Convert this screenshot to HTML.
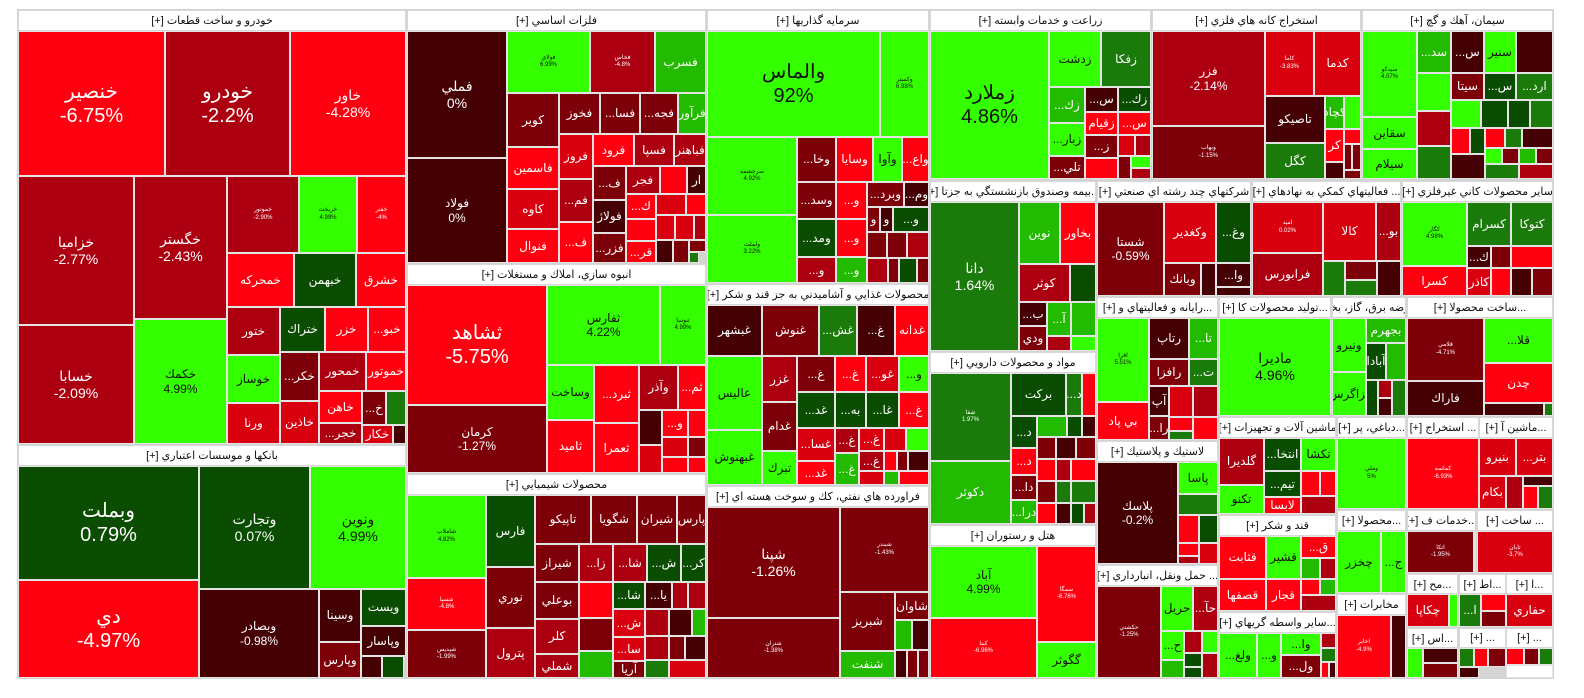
<!DOCTYPE html>
<html><head><meta charset="utf-8">
<style>
body{margin:0;width:1584px;height:698px;background:#fff;position:relative;overflow:hidden;font-family:"Liberation Sans","DejaVu Sans",sans-serif}
.t{position:absolute;box-sizing:border-box;border:1px solid #e4e4e4;display:flex;align-items:center;justify-content:center;text-align:center;color:#fff;font-size:12px;overflow:hidden;line-height:1.2;direction:rtl;unicode-bidi:plaintext;white-space:pre-line}
.h{position:absolute;box-sizing:border-box;border:1px solid #d8d8d8;background:#fff;color:#111;font-size:11px;display:flex;align-items:center;justify-content:center;direction:rtl;white-space:nowrap;overflow:hidden}
.R1{background:#ff0010}.R2{background:#d9000f}.R3{background:#ac0010}.R4{background:#7d0008}.R5{background:#440003}
.G1{background:#33ff00;color:#111}.G2{background:#22bb00}.G3{background:#1a7a0a}.G4{background:#0a4d00}
.b{font-size:20px}.m{font-size:14px}.s{font-size:6px}
</style></head><body>
<div style="position:absolute;left:17px;top:9px;width:1537px;height:670px;background:#d4d4d4"></div>

<!-- خودرو -->
<div class="h" style="left:18px;top:10px;width:388px;height:21px">خودرو و ساخت قطعات [+]</div>
<div class="t R1 b" style="left:18px;top:31px;width:147px;height:145px">خنصير
-6.75%</div>
<div class="t R3 b" style="left:165px;top:31px;width:125px;height:145px">خودرو
-2.2%</div>
<div class="t R1 m" style="left:290px;top:31px;width:116px;height:145px">خاور
-4.28%</div>
<div class="t R3 m" style="left:18px;top:176px;width:116px;height:149px">خزاميا
-2.77%</div>
<div class="t R3 m" style="left:18px;top:325px;width:116px;height:119px">خسابا
-2.09%</div>
<div class="t R3 m" style="left:134px;top:176px;width:93px;height:143px">خگستر
-2.43%</div>
<div class="t G1" style="left:134px;top:319px;width:93px;height:125px">خكمك
4.99%</div>
<div class="t R3 s" style="left:227px;top:176px;width:72px;height:77px">خموتور
-2.90%</div>
<div class="t G1 s" style="left:299px;top:176px;width:58px;height:77px">خريخت
4.99%</div>
<div class="t R1 s" style="left:357px;top:176px;width:49px;height:77px">خفنر
-4%</div>
<div class="t R1" style="left:227px;top:253px;width:67px;height:54px">خمحركه</div>
<div class="t G4" style="left:294px;top:253px;width:62px;height:54px">خبهمن</div>
<div class="t R1" style="left:356px;top:253px;width:50px;height:54px">خشرق</div>
<div class="t R3" style="left:227px;top:307px;width:53px;height:48px">ختور</div>
<div class="t G4" style="left:280px;top:307px;width:45px;height:45px">ختراك</div>
<div class="t R1" style="left:325px;top:307px;width:43px;height:45px">خزر</div>
<div class="t R1" style="left:368px;top:307px;width:38px;height:45px">خبو...</div>
<div class="t G1" style="left:227px;top:355px;width:53px;height:48px">خوساز</div>
<div class="t R2" style="left:227px;top:403px;width:53px;height:41px">ورنا</div>
<div class="t R4" style="left:280px;top:352px;width:39px;height:49px">خكر...</div>
<div class="t R2" style="left:280px;top:401px;width:39px;height:43px">خاذين</div>
<div class="t R3" style="left:319px;top:352px;width:47px;height:39px">خمحور</div>
<div class="t R1" style="left:366px;top:352px;width:40px;height:39px">خموتور</div>
<div class="t R1" style="left:319px;top:391px;width:43px;height:32px">خاهن</div>
<div class="t R4" style="left:362px;top:391px;width:24px;height:34px">خ...</div>
<div class="t G3" style="left:386px;top:391px;width:20px;height:34px"></div>
<div class="t R3" style="left:319px;top:423px;width:43px;height:21px">خجر...</div>
<div class="t R2" style="left:362px;top:425px;width:31px;height:19px">خكار</div>
<div class="t R5" style="left:393px;top:425px;width:13px;height:19px"></div>

<!-- بانكها -->
<div class="h" style="left:18px;top:445px;width:388px;height:21px">بانكها و موسسات اعتباري [+]</div>
<div class="t G4 b" style="left:18px;top:466px;width:181px;height:114px">وبملت
0.79%</div>
<div class="t R1 b" style="left:18px;top:580px;width:181px;height:98px">دي
-4.97%</div>
<div class="t G4 m" style="left:199px;top:466px;width:111px;height:123px">وتجارت
0.07%</div>
<div class="t G1 m" style="left:310px;top:466px;width:96px;height:123px">ونوين
4.99%</div>
<div class="t R5" style="left:199px;top:589px;width:120px;height:89px">وبصادر
-0.98%</div>
<div class="t R5" style="left:319px;top:589px;width:42px;height:53px">وسينا</div>
<div class="t G4" style="left:361px;top:589px;width:45px;height:37px">ويست</div>
<div class="t R5" style="left:361px;top:626px;width:45px;height:30px">وپاسار</div>
<div class="t R4" style="left:319px;top:642px;width:42px;height:36px">وپارس</div>
<div class="t R5" style="left:361px;top:656px;width:21px;height:22px"></div>
<div class="t G4" style="left:382px;top:656px;width:22px;height:22px"></div>

<!-- فلزات -->
<div class="h" style="left:407px;top:10px;width:299px;height:21px">فلزات اساسي [+]</div>
<div class="t R5 m" style="left:407px;top:31px;width:100px;height:127px">فملي
0%</div>
<div class="t R5" style="left:407px;top:158px;width:100px;height:105px">فولاد
0%</div>
<div class="t G1 s" style="left:507px;top:31px;width:83px;height:62px">فولاي
6.99%</div>
<div class="t R3 s" style="left:590px;top:31px;width:65px;height:62px">فخاس
-4.8%</div>
<div class="t G2" style="left:655px;top:31px;width:51px;height:62px">فسرب</div>
<div class="t R4" style="left:507px;top:93px;width:52px;height:54px">كوير</div>
<div class="t R4" style="left:559px;top:93px;width:41px;height:41px">فخوز</div>
<div class="t R4" style="left:600px;top:93px;width:40px;height:41px">فسا...</div>
<div class="t R4" style="left:640px;top:93px;width:38px;height:41px">فجه...</div>
<div class="t G2" style="left:678px;top:93px;width:28px;height:41px">فرآور</div>
<div class="t R1" style="left:507px;top:147px;width:52px;height:42px">فاسمين</div>
<div class="t R2" style="left:507px;top:189px;width:52px;height:40px">كاوه</div>
<div class="t R1" style="left:507px;top:229px;width:52px;height:34px">فنوال</div>
<div class="t R2" style="left:559px;top:134px;width:34px;height:45px">فروز</div>
<div class="t R1" style="left:593px;top:134px;width:41px;height:32px">فرود</div>
<div class="t R3" style="left:634px;top:134px;width:40px;height:32px">فسپا</div>
<div class="t R3" style="left:674px;top:134px;width:32px;height:32px">فباهنر</div>
<div class="t R3" style="left:559px;top:179px;width:34px;height:43px">فم...</div>
<div class="t R1" style="left:559px;top:222px;width:34px;height:41px">ف...</div>
<div class="t R4" style="left:593px;top:166px;width:33px;height:34px">ف...</div>
<div class="t R5" style="left:593px;top:200px;width:33px;height:33px">فولاژ</div>
<div class="t R4" style="left:593px;top:233px;width:33px;height:30px">فزر...</div>
<div class="t R3" style="left:626px;top:166px;width:34px;height:28px">فجر</div>
<div class="t R1" style="left:660px;top:166px;width:27px;height:28px"></div>
<div class="t R5" style="left:687px;top:166px;width:19px;height:28px">ار</div>
<div class="t R1" style="left:626px;top:194px;width:30px;height:25px">ك...</div>
<div class="t R2" style="left:656px;top:194px;width:30px;height:21px"></div>
<div class="t R1" style="left:686px;top:194px;width:20px;height:21px"></div>
<div class="t R1" style="left:626px;top:219px;width:30px;height:22px"></div>
<div class="t R2" style="left:656px;top:215px;width:19px;height:25px"></div>
<div class="t R2" style="left:675px;top:215px;width:19px;height:25px"></div>
<div class="t R3" style="left:694px;top:215px;width:12px;height:25px"></div>
<div class="t R1" style="left:626px;top:241px;width:30px;height:22px">قر...</div>
<div class="t R5" style="left:656px;top:240px;width:17px;height:23px"></div>
<div class="t R4" style="left:673px;top:240px;width:16px;height:23px"></div>
<div class="t R4" style="left:689px;top:240px;width:17px;height:12px"></div>
<div class="t G3" style="left:689px;top:252px;width:10px;height:11px"></div>

<!-- انبوه -->
<div class="h" style="left:407px;top:264px;width:299px;height:21px">انبوه سازي، املاك و مستغلات [+]</div>
<div class="t R1 b" style="left:407px;top:285px;width:140px;height:120px">ثشاهد
-5.75%</div>
<div class="t R4" style="left:407px;top:405px;width:140px;height:68px">كرمان
-1.27%</div>
<div class="t G1" style="left:547px;top:285px;width:113px;height:80px">ثفارس
4.22%</div>
<div class="t G1 s" style="left:660px;top:285px;width:46px;height:80px">ثنوسا
4.99%</div>
<div class="t G1" style="left:547px;top:365px;width:47px;height:55px">وساخت</div>
<div class="t R1" style="left:547px;top:420px;width:47px;height:53px">ثامید</div>
<div class="t R1" style="left:594px;top:365px;width:45px;height:58px">ثبرد...</div>
<div class="t R1" style="left:594px;top:423px;width:45px;height:50px">ثعمرا</div>
<div class="t R3" style="left:639px;top:365px;width:39px;height:45px">وآذر</div>
<div class="t R1" style="left:678px;top:365px;width:28px;height:45px">ثم...</div>
<div class="t R5" style="left:639px;top:410px;width:23px;height:35px"></div>
<div class="t R1" style="left:662px;top:410px;width:26px;height:27px">و...</div>
<div class="t R1" style="left:688px;top:410px;width:18px;height:27px"></div>
<div class="t R2" style="left:639px;top:445px;width:23px;height:28px"></div>
<div class="t R2" style="left:662px;top:437px;width:26px;height:20px"></div>
<div class="t R4" style="left:688px;top:437px;width:18px;height:20px"></div>
<div class="t R1" style="left:662px;top:457px;width:26px;height:16px"></div>
<div class="t R1" style="left:688px;top:457px;width:18px;height:16px"></div>

<!-- شيميايي -->
<div class="h" style="left:407px;top:474px;width:299px;height:21px">محصولات شيميايي [+]</div>
<div class="t G1 s" style="left:407px;top:495px;width:79px;height:83px">شاملاب
4.82%</div>
<div class="t R1 s" style="left:407px;top:578px;width:79px;height:52px">شسپا
-4.8%</div>
<div class="t R4 s" style="left:407px;top:630px;width:79px;height:48px">شپدیس
-1.99%</div>
<div class="t G4" style="left:486px;top:495px;width:49px;height:72px">فارس</div>
<div class="t R4" style="left:486px;top:567px;width:49px;height:61px">نوري</div>
<div class="t R3" style="left:486px;top:628px;width:49px;height:50px">پترول</div>
<div class="t R4" style="left:535px;top:495px;width:56px;height:49px">تاپيكو</div>
<div class="t R4" style="left:591px;top:495px;width:46px;height:49px">شگويا</div>
<div class="t R4" style="left:637px;top:495px;width:40px;height:49px">شيران</div>
<div class="t R4" style="left:677px;top:495px;width:29px;height:49px">پارس</div>
<div class="t R4" style="left:535px;top:544px;width:44px;height:38px">شيراز</div>
<div class="t R3" style="left:579px;top:544px;width:34px;height:38px">زا...</div>
<div class="t R3" style="left:613px;top:544px;width:34px;height:38px">شا...</div>
<div class="t G4" style="left:647px;top:544px;width:34px;height:38px">ش...</div>
<div class="t G4" style="left:681px;top:544px;width:25px;height:38px">كر...</div>
<div class="t R4" style="left:535px;top:582px;width:44px;height:37px">بوعلي</div>
<div class="t R3" style="left:535px;top:619px;width:44px;height:35px">كلر</div>
<div class="t R3" style="left:535px;top:654px;width:44px;height:24px">شملي</div>
<div class="t R1" style="left:579px;top:582px;width:34px;height:36px"></div>
<div class="t R4" style="left:579px;top:618px;width:34px;height:33px"></div>
<div class="t G2" style="left:579px;top:651px;width:34px;height:27px"></div>
<div class="t G4" style="left:613px;top:582px;width:32px;height:27px">شا...</div>
<div class="t R5" style="left:645px;top:582px;width:27px;height:27px">يا...</div>
<div class="t R3" style="left:672px;top:582px;width:16px;height:27px"></div>
<div class="t R3" style="left:688px;top:582px;width:18px;height:27px"></div>
<div class="t R2" style="left:613px;top:609px;width:32px;height:28px">ش...</div>
<div class="t R2" style="left:613px;top:637px;width:32px;height:24px">سا...</div>
<div class="t R4" style="left:613px;top:661px;width:32px;height:17px">آريا</div>
<div class="t R3" style="left:645px;top:609px;width:24px;height:27px"></div>
<div class="t R5" style="left:669px;top:609px;width:23px;height:27px"></div>
<div class="t G2" style="left:692px;top:609px;width:14px;height:27px"></div>
<div class="t R3" style="left:645px;top:636px;width:24px;height:24px"></div>
<div class="t R4" style="left:669px;top:636px;width:16px;height:24px"></div>
<div class="t R5" style="left:685px;top:636px;width:21px;height:24px"></div>
<div class="t G3" style="left:645px;top:660px;width:24px;height:18px"></div>
<div class="t R2" style="left:669px;top:660px;width:37px;height:18px"></div>

<!-- سرمايه گذاريها -->
<div class="h" style="left:707px;top:10px;width:222px;height:21px">سرمايه گذاريها [+]</div>
<div class="t G1 b" style="left:707px;top:31px;width:173px;height:106px">والماس
92%</div>
<div class="t G1 s" style="left:880px;top:31px;width:49px;height:106px">وكستر
6.98%</div>
<div class="t G1 s" style="left:707px;top:137px;width:90px;height:78px">سرچشمه
4.92%</div>
<div class="t G1 s" style="left:707px;top:215px;width:90px;height:68px">ولملت
3.22%</div>
<div class="t R4" style="left:797px;top:137px;width:39px;height:45px">وخا...</div>
<div class="t R1" style="left:836px;top:137px;width:37px;height:45px">وسايا</div>
<div class="t G1" style="left:873px;top:137px;width:29px;height:45px">وآوا</div>
<div class="t R1" style="left:902px;top:137px;width:27px;height:45px">واع...</div>
<div class="t R4" style="left:797px;top:182px;width:39px;height:37px">وسد...</div>
<div class="t R1" style="left:836px;top:182px;width:31px;height:37px">و...</div>
<div class="t R4" style="left:867px;top:182px;width:37px;height:25px">وبرد...</div>
<div class="t R5" style="left:904px;top:182px;width:25px;height:25px">وم...</div>
<div class="t G4" style="left:797px;top:219px;width:39px;height:38px">ومد...</div>
<div class="t R1" style="left:836px;top:219px;width:31px;height:38px">و...</div>
<div class="t R4" style="left:867px;top:207px;width:13px;height:25px">و</div>
<div class="t R5" style="left:880px;top:207px;width:13px;height:25px">و</div>
<div class="t G4" style="left:893px;top:207px;width:36px;height:25px">و...</div>
<div class="t R4" style="left:867px;top:232px;width:20px;height:26px"></div>
<div class="t R4" style="left:887px;top:232px;width:20px;height:26px"></div>
<div class="t R3" style="left:907px;top:232px;width:22px;height:26px"></div>
<div class="t R3" style="left:797px;top:257px;width:39px;height:26px">و...</div>
<div class="t G2" style="left:836px;top:257px;width:31px;height:26px">و...</div>
<div class="t R3" style="left:867px;top:258px;width:21px;height:25px"></div>
<div class="t R4" style="left:888px;top:258px;width:11px;height:25px"></div>
<div class="t G4" style="left:899px;top:258px;width:18px;height:25px"></div>
<div class="t R4" style="left:917px;top:258px;width:12px;height:25px"></div>

<!-- غذايي -->
<div class="h" style="left:707px;top:284px;width:222px;height:21px">محصولات غذايي و آشاميدني به جز قند و شكر [+]</div>
<div class="t R5" style="left:707px;top:305px;width:55px;height:51px">غبشهر</div>
<div class="t R4" style="left:762px;top:305px;width:57px;height:51px">غنوش</div>
<div class="t G3" style="left:819px;top:305px;width:38px;height:51px">غش...</div>
<div class="t R5" style="left:857px;top:305px;width:38px;height:51px">غ...</div>
<div class="t R1" style="left:895px;top:305px;width:34px;height:51px">غدانه</div>
<div class="t G1" style="left:707px;top:356px;width:55px;height:74px">عاليس</div>
<div class="t G1" style="left:707px;top:430px;width:55px;height:55px">غبهنوش</div>
<div class="t R3" style="left:762px;top:356px;width:35px;height:46px">غزر</div>
<div class="t R4" style="left:762px;top:402px;width:35px;height:49px">غدام</div>
<div class="t G1" style="left:762px;top:451px;width:35px;height:34px">تبرك</div>
<div class="t R4" style="left:797px;top:356px;width:38px;height:36px">غ...</div>
<div class="t R1" style="left:835px;top:356px;width:31px;height:36px">غ...</div>
<div class="t R2" style="left:866px;top:356px;width:33px;height:36px">غو...</div>
<div class="t G1" style="left:899px;top:356px;width:30px;height:36px">و...</div>
<div class="t G4" style="left:797px;top:392px;width:38px;height:36px">غد...</div>
<div class="t G4" style="left:835px;top:392px;width:31px;height:36px">به...</div>
<div class="t G4" style="left:866px;top:392px;width:33px;height:36px">غا...</div>
<div class="t R1" style="left:899px;top:392px;width:30px;height:36px">غ...</div>
<div class="t R2" style="left:797px;top:428px;width:38px;height:33px">غسا...</div>
<div class="t R1" style="left:797px;top:461px;width:38px;height:24px">غد...</div>
<div class="t R3" style="left:835px;top:428px;width:24px;height:25px">غ...</div>
<div class="t G2" style="left:835px;top:453px;width:24px;height:32px">غ...</div>
<div class="t R2" style="left:859px;top:428px;width:25px;height:23px">غ...</div>
<div class="t R3" style="left:859px;top:451px;width:25px;height:20px">غ...</div>
<div class="t R2" style="left:859px;top:471px;width:25px;height:14px"></div>
<div class="t R2" style="left:884px;top:428px;width:22px;height:23px"></div>
<div class="t G1" style="left:906px;top:428px;width:23px;height:23px"></div>
<div class="t R1" style="left:884px;top:451px;width:13px;height:20px"></div>
<div class="t R4" style="left:897px;top:451px;width:11px;height:20px"></div>
<div class="t R5" style="left:908px;top:451px;width:21px;height:20px"></div>
<div class="t G2" style="left:884px;top:471px;width:15px;height:14px"></div>
<div class="t R1" style="left:899px;top:471px;width:30px;height:14px"></div>

<!-- فراورده نفتي -->
<div class="h" style="left:707px;top:486px;width:222px;height:21px">فراورده هاي نفتي، كك و سوخت هسته اي [+]</div>
<div class="t R4 m" style="left:707px;top:507px;width:133px;height:111px">شپنا
-1.26%</div>
<div class="t R4 s" style="left:840px;top:507px;width:89px;height:85px">شبندر
-1.43%</div>
<div class="t R4 s" style="left:707px;top:618px;width:133px;height:60px">شتران
-1.38%</div>
<div class="t R4" style="left:840px;top:592px;width:55px;height:59px">شبريز</div>
<div class="t R4" style="left:895px;top:592px;width:34px;height:28px">شاوان</div>
<div class="t G2" style="left:895px;top:620px;width:17px;height:30px"></div>
<div class="t R5" style="left:912px;top:620px;width:17px;height:30px"></div>
<div class="t G2" style="left:840px;top:651px;width:55px;height:27px">شنفت</div>
<div class="t R5" style="left:895px;top:650px;width:12px;height:28px"></div>
<div class="t R4" style="left:907px;top:650px;width:11px;height:28px"></div>
<div class="t R4" style="left:918px;top:650px;width:11px;height:28px"></div>

<!-- زراعت -->
<div class="h" style="left:930px;top:10px;width:221px;height:21px">زراعت و خدمات وابسته [+]</div>
<div class="t G1 b" style="left:930px;top:31px;width:119px;height:148px">زملارد
4.86%</div>
<div class="t G1" style="left:1049px;top:31px;width:52px;height:56px">زدشت</div>
<div class="t G3" style="left:1101px;top:31px;width:50px;height:56px">زفكا</div>
<div class="t G2" style="left:1049px;top:87px;width:36px;height:36px">زك...</div>
<div class="t G1" style="left:1049px;top:123px;width:36px;height:33px">زبار...</div>
<div class="t R4" style="left:1049px;top:156px;width:36px;height:23px">تلي...</div>
<div class="t R5" style="left:1085px;top:87px;width:33px;height:25px">س...</div>
<div class="t G4" style="left:1118px;top:87px;width:33px;height:25px">زك...</div>
<div class="t R1" style="left:1085px;top:112px;width:33px;height:23px">زقيام</div>
<div class="t R1" style="left:1118px;top:112px;width:33px;height:23px">س...</div>
<div class="t R4" style="left:1085px;top:135px;width:33px;height:23px">ز...</div>
<div class="t R2" style="left:1118px;top:135px;width:17px;height:21px"></div>
<div class="t R3" style="left:1135px;top:135px;width:16px;height:21px"></div>
<div class="t R1" style="left:1085px;top:158px;width:33px;height:21px"></div>
<div class="t R4" style="left:1118px;top:156px;width:13px;height:23px"></div>
<div class="t G1" style="left:1131px;top:156px;width:20px;height:12px"></div>
<div class="t R3" style="left:1131px;top:168px;width:20px;height:11px"></div>

<!-- استخراج كانه -->
<div class="h" style="left:1152px;top:10px;width:209px;height:21px">استخراج كانه هاي فلزي [+]</div>
<div class="t R3" style="left:1152px;top:31px;width:113px;height:95px">فزر
-2.14%</div>
<div class="t R4 s" style="left:1152px;top:126px;width:113px;height:53px">وبهاب
-1.15%</div>
<div class="t R2 s" style="left:1265px;top:31px;width:49px;height:65px">كاما
-3.83%</div>
<div class="t R2" style="left:1314px;top:31px;width:47px;height:65px">كدما</div>
<div class="t R5" style="left:1265px;top:96px;width:60px;height:47px">تاصيكو</div>
<div class="t G3" style="left:1265px;top:143px;width:60px;height:36px">كگل</div>
<div class="t G2" style="left:1325px;top:96px;width:19px;height:33px">كچاد</div>
<div class="t G1" style="left:1344px;top:96px;width:17px;height:33px"></div>
<div class="t R1" style="left:1325px;top:129px;width:19px;height:33px">كر</div>
<div class="t R1" style="left:1344px;top:129px;width:17px;height:15px"></div>
<div class="t R4" style="left:1344px;top:144px;width:8px;height:26px"></div>
<div class="t R4" style="left:1352px;top:144px;width:9px;height:26px"></div>
<div class="t R5" style="left:1325px;top:162px;width:19px;height:17px"></div>
<div class="t R4" style="left:1344px;top:170px;width:17px;height:9px"></div>

<!-- سيمان -->
<div class="h" style="left:1362px;top:10px;width:191px;height:21px">سيمان، آهك و گچ [+]</div>
<div class="t G1 s" style="left:1362px;top:31px;width:55px;height:86px">سيدكو
4.07%</div>
<div class="t G1" style="left:1362px;top:117px;width:55px;height:32px">سقاين</div>
<div class="t G1" style="left:1362px;top:149px;width:55px;height:30px">سيلام</div>
<div class="t G2" style="left:1417px;top:31px;width:34px;height:42px">سد...</div>
<div class="t R5" style="left:1451px;top:31px;width:33px;height:42px">س...</div>
<div class="t G1" style="left:1484px;top:31px;width:32px;height:42px">سنير</div>
<div class="t R5" style="left:1516px;top:31px;width:37px;height:42px"></div>
<div class="t G1" style="left:1417px;top:73px;width:34px;height:38px"></div>
<div class="t R4" style="left:1451px;top:73px;width:33px;height:27px">سيتا</div>
<div class="t G4" style="left:1484px;top:73px;width:32px;height:27px">س...</div>
<div class="t G3" style="left:1516px;top:73px;width:37px;height:27px">ارد...</div>
<div class="t R3" style="left:1417px;top:111px;width:34px;height:35px"></div>
<div class="t G3" style="left:1417px;top:146px;width:34px;height:33px"></div>
<div class="t G1" style="left:1451px;top:100px;width:30px;height:28px"></div>
<div class="t G4" style="left:1481px;top:100px;width:27px;height:28px"></div>
<div class="t G4" style="left:1508px;top:100px;width:22px;height:28px"></div>
<div class="t G3" style="left:1530px;top:100px;width:23px;height:28px"></div>
<div class="t R1" style="left:1451px;top:128px;width:19px;height:26px"></div>
<div class="t G4" style="left:1470px;top:128px;width:15px;height:26px"></div>
<div class="t R1" style="left:1485px;top:128px;width:20px;height:20px"></div>
<div class="t G3" style="left:1505px;top:128px;width:17px;height:20px"></div>
<div class="t R5" style="left:1522px;top:128px;width:31px;height:20px"></div>
<div class="t R5" style="left:1451px;top:154px;width:34px;height:25px"></div>
<div class="t G1" style="left:1485px;top:148px;width:17px;height:16px"></div>
<div class="t R4" style="left:1502px;top:148px;width:17px;height:16px"></div>
<div class="t G2" style="left:1519px;top:148px;width:17px;height:16px"></div>
<div class="t R4" style="left:1536px;top:148px;width:17px;height:16px"></div>
<div class="t G3" style="left:1485px;top:164px;width:34px;height:15px"></div>
<div class="t R3" style="left:1519px;top:164px;width:34px;height:15px"></div>

<!-- بيمه -->
<div class="h" style="left:930px;top:181px;width:166px;height:21px">...بيمه وصندوق بازنشستگي به جزتا [+]</div>
<div class="t G3 m" style="left:930px;top:202px;width:89px;height:149px">دانا
1.64%</div>
<div class="t G2" style="left:1019px;top:202px;width:41px;height:62px">نوين</div>
<div class="t R1" style="left:1060px;top:202px;width:36px;height:62px">بخاور</div>
<div class="t R3" style="left:1019px;top:264px;width:51px;height:38px">كوثر</div>
<div class="t G4" style="left:1070px;top:264px;width:26px;height:38px"></div>
<div class="t R5" style="left:1019px;top:302px;width:28px;height:24px">ب...</div>
<div class="t R4" style="left:1019px;top:326px;width:28px;height:25px">ودي</div>
<div class="t G2" style="left:1047px;top:302px;width:24px;height:34px">آ...</div>
<div class="t G2" style="left:1071px;top:302px;width:25px;height:34px"></div>
<div class="t R3" style="left:1047px;top:336px;width:24px;height:15px"></div>
<div class="t G1" style="left:1071px;top:336px;width:25px;height:15px"></div>

<!-- دارويي -->
<div class="h" style="left:930px;top:352px;width:166px;height:21px">مواد و محصولات دارويي [+]</div>
<div class="t G3 s" style="left:930px;top:373px;width:81px;height:88px">شفا
1.97%</div>
<div class="t G2" style="left:930px;top:461px;width:81px;height:63px">دكوثر</div>
<div class="t G4" style="left:1011px;top:373px;width:55px;height:43px">بركت</div>
<div class="t G3" style="left:1066px;top:373px;width:16px;height:43px">د...</div>
<div class="t R1" style="left:1082px;top:373px;width:14px;height:43px"></div>
<div class="t G4" style="left:1011px;top:416px;width:26px;height:32px">د...</div>
<div class="t R1" style="left:1011px;top:448px;width:26px;height:27px">د...</div>
<div class="t R4" style="left:1011px;top:475px;width:26px;height:25px">دا...</div>
<div class="t G2" style="left:1011px;top:500px;width:26px;height:24px">درا...</div>
<div class="t G2" style="left:1037px;top:416px;width:30px;height:21px"></div>
<div class="t G4" style="left:1067px;top:416px;width:15px;height:21px"></div>
<div class="t R5" style="left:1082px;top:416px;width:14px;height:21px"></div>
<div class="t R4" style="left:1037px;top:437px;width:19px;height:22px"></div>
<div class="t R5" style="left:1056px;top:437px;width:20px;height:22px"></div>
<div class="t R4" style="left:1076px;top:437px;width:20px;height:22px"></div>
<div class="t R1" style="left:1037px;top:459px;width:19px;height:22px"></div>
<div class="t R3" style="left:1056px;top:459px;width:15px;height:22px"></div>
<div class="t R1" style="left:1071px;top:459px;width:25px;height:22px"></div>
<div class="t R4" style="left:1037px;top:481px;width:19px;height:22px"></div>
<div class="t G3" style="left:1056px;top:481px;width:15px;height:22px"></div>
<div class="t G3" style="left:1071px;top:481px;width:25px;height:22px"></div>
<div class="t R1" style="left:1037px;top:503px;width:19px;height:21px"></div>
<div class="t R5" style="left:1056px;top:503px;width:15px;height:21px"></div>
<div class="t G4" style="left:1071px;top:503px;width:13px;height:21px"></div>
<div class="t R3" style="left:1084px;top:503px;width:12px;height:21px"></div>

<!-- هتل -->
<div class="h" style="left:930px;top:525px;width:166px;height:21px">هتل و رستوران [+]</div>
<div class="t G1" style="left:930px;top:546px;width:107px;height:72px">آباد
4.99%</div>
<div class="t R1 s" style="left:930px;top:618px;width:107px;height:60px">كبنا
-6.96%</div>
<div class="t R1 s" style="left:1037px;top:546px;width:59px;height:96px">سمگا
-6.76%</div>
<div class="t G1" style="left:1037px;top:642px;width:59px;height:36px">گگوثر</div>

<!-- چند رشته -->
<div class="h" style="left:1097px;top:181px;width:154px;height:21px">شركتهاي چند رشته اي صنعتي [+]</div>
<div class="t R4" style="left:1097px;top:202px;width:67px;height:94px">شستا
-0.59%</div>
<div class="t R2" style="left:1164px;top:202px;width:52px;height:61px">وكغدير</div>
<div class="t G4" style="left:1216px;top:202px;width:35px;height:61px">وغ...</div>
<div class="t R4" style="left:1164px;top:263px;width:37px;height:33px">وبانك</div>
<div class="t R5" style="left:1201px;top:263px;width:15px;height:33px"></div>
<div class="t R5" style="left:1216px;top:263px;width:35px;height:24px">وا...</div>
<div class="t R5" style="left:1216px;top:287px;width:35px;height:9px"></div>

<!-- فعاليتهاي كمكي -->
<div class="h" style="left:1252px;top:181px;width:149px;height:21px">... فعاليتهاي كمكي به نهادهاي [+]</div>
<div class="t R2 s" style="left:1252px;top:202px;width:71px;height:51px">اميد
0.02%</div>
<div class="t R3" style="left:1252px;top:253px;width:71px;height:43px">فرابورس</div>
<div class="t R2" style="left:1323px;top:202px;width:53px;height:59px">كالا</div>
<div class="t R3" style="left:1376px;top:202px;width:25px;height:59px">بو...</div>
<div class="t G3" style="left:1323px;top:261px;width:22px;height:35px"></div>
<div class="t R4" style="left:1345px;top:261px;width:32px;height:19px"></div>
<div class="t G3" style="left:1345px;top:280px;width:32px;height:16px"></div>
<div class="t R5" style="left:1377px;top:261px;width:24px;height:35px"></div>

<!-- ساير كاني -->
<div class="h" style="left:1402px;top:181px;width:151px;height:21px">ساير محصولات كاني غيرفلزي [+]</div>
<div class="t G1 s" style="left:1402px;top:202px;width:65px;height:64px">كگاز
4.98%</div>
<div class="t R1" style="left:1402px;top:266px;width:65px;height:30px">كسرا</div>
<div class="t G3" style="left:1467px;top:202px;width:44px;height:44px">كسرام</div>
<div class="t G3" style="left:1511px;top:202px;width:42px;height:44px">كتوكا</div>
<div class="t R5" style="left:1467px;top:246px;width:24px;height:22px">ك...</div>
<div class="t R4" style="left:1491px;top:246px;width:20px;height:22px"></div>
<div class="t R1" style="left:1511px;top:246px;width:42px;height:22px"></div>
<div class="t R2" style="left:1467px;top:268px;width:24px;height:28px">كاذر</div>
<div class="t R1" style="left:1491px;top:268px;width:20px;height:28px"></div>
<div class="t R5" style="left:1511px;top:268px;width:21px;height:28px"></div>
<div class="t R4" style="left:1532px;top:268px;width:21px;height:28px"></div>

<!-- رايانه -->
<div class="h" style="left:1097px;top:297px;width:121px;height:21px">...رايانه و فعاليتهاي و [+]</div>
<div class="t G1 s" style="left:1097px;top:318px;width:52px;height:84px">افرا
5.51%</div>
<div class="t R1" style="left:1097px;top:402px;width:52px;height:38px">بي پاد</div>
<div class="t R5" style="left:1149px;top:318px;width:40px;height:41px">رتاپ</div>
<div class="t G2" style="left:1189px;top:318px;width:29px;height:41px">تا...</div>
<div class="t R4" style="left:1149px;top:359px;width:40px;height:27px">رافزا</div>
<div class="t G3" style="left:1189px;top:359px;width:29px;height:27px">ت...</div>
<div class="t R5" style="left:1149px;top:386px;width:20px;height:30px">آپ</div>
<div class="t R4" style="left:1149px;top:416px;width:20px;height:24px">را...</div>
<div class="t R2" style="left:1169px;top:386px;width:24px;height:31px"></div>
<div class="t R3" style="left:1193px;top:386px;width:25px;height:31px"></div>
<div class="t R1" style="left:1169px;top:417px;width:24px;height:14px"></div>
<div class="t G3" style="left:1169px;top:431px;width:24px;height:9px"></div>
<div class="t R1" style="left:1193px;top:417px;width:25px;height:23px"></div>

<!-- توليد محصولات كا -->
<div class="h" style="left:1219px;top:297px;width:112px;height:21px">...توليد محصولات كا [+]</div>
<div class="t G1 m" style="left:1219px;top:318px;width:112px;height:98px">ماديرا
4.96%</div>

<!-- عرضه برق -->
<div class="h" style="left:1332px;top:297px;width:74px;height:21px">...عرضه برق، گاز، بخا [+]</div>
<div class="t G1" style="left:1332px;top:318px;width:34px;height:54px">ونيرو</div>
<div class="t G1" style="left:1332px;top:372px;width:34px;height:44px">بزاگرس</div>
<div class="t G2" style="left:1366px;top:318px;width:40px;height:25px">بجهرم</div>
<div class="t G4" style="left:1366px;top:343px;width:20px;height:37px">آبادا</div>
<div class="t G2" style="left:1386px;top:343px;width:20px;height:37px"></div>
<div class="t G4" style="left:1366px;top:380px;width:12px;height:36px"></div>
<div class="t R3" style="left:1378px;top:380px;width:14px;height:18px"></div>
<div class="t R5" style="left:1378px;top:398px;width:14px;height:18px"></div>
<div class="t G3" style="left:1392px;top:380px;width:14px;height:36px"></div>

<!-- ساخت محصولا -->
<div class="h" style="left:1407px;top:297px;width:146px;height:21px">...ساخت محصولا [+]</div>
<div class="t R4 s" style="left:1407px;top:318px;width:77px;height:63px">فلامي
-4.71%</div>
<div class="t R5" style="left:1407px;top:381px;width:77px;height:35px">فاراك</div>
<div class="t G1" style="left:1484px;top:318px;width:69px;height:45px">قلا...</div>
<div class="t R1" style="left:1484px;top:363px;width:69px;height:40px">چدن</div>
<div class="t R5" style="left:1484px;top:403px;width:60px;height:13px"></div>
<div class="t G3" style="left:1544px;top:403px;width:9px;height:13px"></div>

<!-- ماشين آلات -->
<div class="h" style="left:1219px;top:417px;width:117px;height:21px">ماشين آلات و تجهيزات [+]</div>
<div class="t R3" style="left:1219px;top:438px;width:45px;height:47px">گلديرا</div>
<div class="t G1" style="left:1219px;top:485px;width:45px;height:29px">تكنو</div>
<div class="t G4" style="left:1264px;top:438px;width:37px;height:33px">انتخا...</div>
<div class="t G1" style="left:1301px;top:438px;width:35px;height:33px">تكشا</div>
<div class="t G4" style="left:1264px;top:471px;width:37px;height:26px">تيم...</div>
<div class="t R1" style="left:1264px;top:497px;width:37px;height:17px">لابسا</div>
<div class="t R1" style="left:1301px;top:471px;width:19px;height:25px"></div>
<div class="t R1" style="left:1320px;top:471px;width:16px;height:25px"></div>
<div class="t R3" style="left:1301px;top:496px;width:35px;height:18px"></div>

<!-- دباغي -->
<div class="h" style="left:1337px;top:417px;width:69px;height:21px">...دباغي، پر [+]</div>
<div class="t G1 s" style="left:1337px;top:438px;width:69px;height:71px">وملي
5%</div>
<div class="h" style="left:1407px;top:417px;width:72px;height:21px">... استخراج [+]</div>
<div class="t R1 s" style="left:1407px;top:438px;width:72px;height:71px">كماسه
-6.93%</div>
<div class="h" style="left:1479px;top:417px;width:74px;height:21px">...ماشين آ [+]</div>
<div class="t R2" style="left:1479px;top:438px;width:37px;height:38px">بنيرو</div>
<div class="t R2" style="left:1516px;top:438px;width:37px;height:38px">بتر...</div>
<div class="t R2" style="left:1479px;top:476px;width:27px;height:33px">بكام</div>
<div class="t R3" style="left:1506px;top:476px;width:17px;height:33px"></div>
<div class="t R1" style="left:1523px;top:486px;width:15px;height:23px"></div>
<div class="t R5" style="left:1523px;top:476px;width:30px;height:10px"></div>
<div class="t G3" style="left:1538px;top:486px;width:15px;height:23px"></div>

<!-- لاستيك -->
<div class="h" style="left:1097px;top:441px;width:121px;height:21px">لاستيك و پلاستيك [+]</div>
<div class="t R5" style="left:1097px;top:462px;width:81px;height:102px">پلاسك
-0.2%</div>
<div class="t G1" style="left:1178px;top:462px;width:40px;height:32px">پاسا</div>
<div class="t G3" style="left:1178px;top:494px;width:40px;height:21px"></div>
<div class="t R1" style="left:1178px;top:515px;width:21px;height:28px"></div>
<div class="t G4" style="left:1199px;top:515px;width:19px;height:28px"></div>
<div class="t R1" style="left:1178px;top:543px;width:21px;height:13px"></div>
<div class="t R3" style="left:1178px;top:556px;width:21px;height:8px"></div>
<div class="t R2" style="left:1199px;top:543px;width:19px;height:21px"></div>

<!-- قند -->
<div class="h" style="left:1219px;top:515px;width:117px;height:21px">قند و شكر [+]</div>
<div class="t R1" style="left:1219px;top:536px;width:47px;height:43px">قثابت</div>
<div class="t G1" style="left:1266px;top:536px;width:35px;height:43px">قشير</div>
<div class="t R1" style="left:1301px;top:536px;width:35px;height:22px">ق...</div>
<div class="t G2" style="left:1301px;top:558px;width:19px;height:21px"></div>
<div class="t R3" style="left:1320px;top:558px;width:16px;height:21px"></div>
<div class="t R1" style="left:1219px;top:579px;width:47px;height:32px">قصفها</div>
<div class="t R1" style="left:1266px;top:579px;width:35px;height:32px">قجار</div>
<div class="t R1" style="left:1301px;top:579px;width:19px;height:16px"></div>
<div class="t G2" style="left:1320px;top:579px;width:16px;height:16px"></div>
<div class="t R3" style="left:1301px;top:595px;width:35px;height:16px"></div>

<!-- حمل ونقل -->
<div class="h" style="left:1097px;top:565px;width:121px;height:21px">... حمل ونقل، انبارداري [+]</div>
<div class="t R4 s" style="left:1097px;top:586px;width:64px;height:92px">حكشتي
-1.25%</div>
<div class="t G1" style="left:1161px;top:586px;width:32px;height:45px">حريل</div>
<div class="t R3" style="left:1193px;top:586px;width:25px;height:45px">حآ...</div>
<div class="t G1" style="left:1161px;top:631px;width:23px;height:29px">ح...</div>
<div class="t G2" style="left:1161px;top:660px;width:23px;height:18px"></div>
<div class="t R3" style="left:1184px;top:631px;width:18px;height:22px"></div>
<div class="t G1" style="left:1202px;top:631px;width:16px;height:22px"></div>
<div class="t G4" style="left:1184px;top:653px;width:18px;height:14px"></div>
<div class="t G4" style="left:1184px;top:667px;width:18px;height:11px"></div>
<div class="t R3" style="left:1202px;top:653px;width:16px;height:25px"></div>

<!-- ساير واسطه -->
<div class="h" style="left:1219px;top:612px;width:117px;height:21px">...ساير واسطه گريهاي [+]</div>
<div class="t G1" style="left:1219px;top:633px;width:38px;height:45px">ولغ...</div>
<div class="t G1" style="left:1257px;top:633px;width:24px;height:45px">و...</div>
<div class="t G1" style="left:1281px;top:633px;width:40px;height:22px">وا...</div>
<div class="t R4" style="left:1281px;top:655px;width:40px;height:23px">ول...</div>
<div class="t R3" style="left:1321px;top:633px;width:15px;height:15px"></div>
<div class="t G3" style="left:1321px;top:648px;width:15px;height:14px"></div>
<div class="t R1" style="left:1321px;top:662px;width:8px;height:16px"></div>
<div class="t R5" style="left:1329px;top:662px;width:7px;height:16px"></div>

<!-- محصولا -->
<div class="h" style="left:1337px;top:510px;width:69px;height:21px">...محصولا [+]</div>
<div class="t G1" style="left:1337px;top:531px;width:44px;height:62px">چخزر</div>
<div class="t G1" style="left:1381px;top:531px;width:25px;height:62px">ج...</div>
<div class="h" style="left:1407px;top:510px;width:69px;height:21px">...خدمات ف [+]</div>
<div class="t R4 s" style="left:1407px;top:531px;width:67px;height:42px">اتكا
-1.95%</div>
<div class="t R1" style="left:1474px;top:531px;width:2px;height:42px"></div>
<div class="h" style="left:1477px;top:510px;width:76px;height:21px">... ساخت [+]</div>
<div class="t R2 s" style="left:1477px;top:531px;width:76px;height:42px">تابان
-3.7%</div>

<div class="h" style="left:1337px;top:594px;width:69px;height:21px">مخابرات [+]</div>
<div class="t R1 s" style="left:1337px;top:615px;width:54px;height:63px">اخابر
-4.9%</div>
<div class="t R5" style="left:1391px;top:615px;width:15px;height:63px"></div>

<div class="h" style="left:1407px;top:574px;width:51px;height:20px">...مح [+]</div>
<div class="t R2" style="left:1407px;top:594px;width:42px;height:33px">چكاپا</div>
<div class="t G1" style="left:1449px;top:594px;width:9px;height:33px"></div>
<div class="h" style="left:1459px;top:574px;width:47px;height:20px">...اط [+]</div>
<div class="t G3" style="left:1459px;top:594px;width:22px;height:33px">ا...</div>
<div class="t R1" style="left:1481px;top:594px;width:25px;height:17px"></div>
<div class="t R4" style="left:1481px;top:611px;width:25px;height:16px"></div>
<div class="h" style="left:1506px;top:574px;width:47px;height:20px">...ا [+]</div>
<div class="t R2" style="left:1506px;top:594px;width:47px;height:33px">حفاري</div>

<div class="h" style="left:1407px;top:628px;width:51px;height:20px">...اس [+]</div>
<div class="t G1" style="left:1407px;top:648px;width:16px;height:30px"></div>
<div class="t R5" style="left:1423px;top:648px;width:35px;height:15px"></div>
<div class="t R4" style="left:1423px;top:663px;width:35px;height:15px"></div>
<div class="h" style="left:1459px;top:628px;width:47px;height:20px">... [+]</div>
<div class="t G3" style="left:1459px;top:648px;width:15px;height:19px"></div>
<div class="t R1" style="left:1474px;top:648px;width:14px;height:19px"></div>
<div class="t R4" style="left:1488px;top:648px;width:18px;height:19px"></div>
<div class="t R5" style="left:1459px;top:667px;width:20px;height:11px"></div>
<div class="h" style="left:1506px;top:628px;width:47px;height:20px">... [+]</div>
<div class="t R1" style="left:1506px;top:648px;width:18px;height:17px"></div>
<div class="t R4" style="left:1524px;top:648px;width:15px;height:17px"></div>
<div class="t G3" style="left:1539px;top:648px;width:14px;height:17px"></div>
<div class="t" style="left:1506px;top:665px;width:47px;height:13px;background:#fff"></div>
</body></html>
